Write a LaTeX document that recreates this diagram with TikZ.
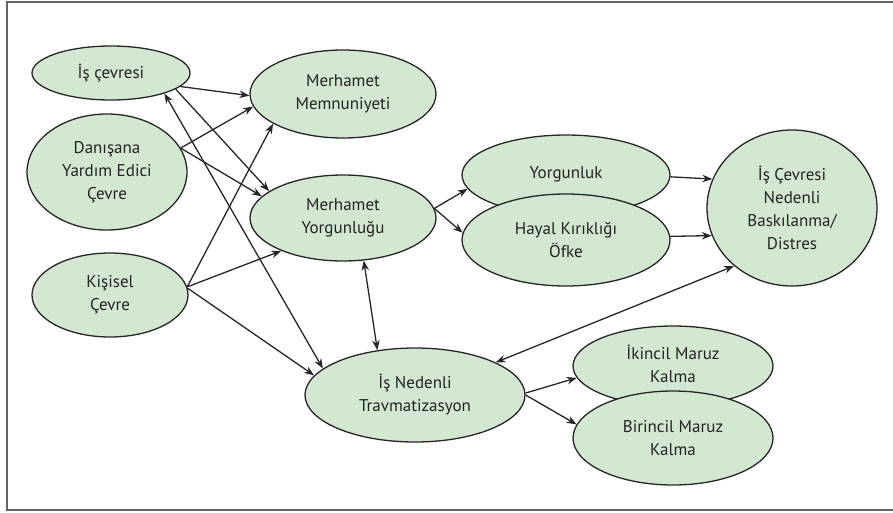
\documentclass[tikz,border=0pt]{standalone}
\usepackage{fontspec}
\setmainfont{PT Sans}
\usetikzlibrary{shapes.geometric,arrows.meta}
\definecolor{ellfill}{RGB}{211,232,209}
\definecolor{txt}{RGB}{35,35,35}
\definecolor{framec}{RGB}{100,100,100}
\tikzset{
  bub/.style={ellipse, draw=black!85, line width=1.3pt, fill=ellfill, inner sep=0pt,
    align=center, text=txt, font=\fontsize{17}{23}\selectfont},
  arr/.style={-{Stealth[length=10pt,width=7.5pt]}, line width=1.3pt, black!85},
  darr/.style={{Stealth[length=10pt,width=7.5pt]}-{Stealth[length=10pt,width=7.5pt]}, line width=1.3pt, black!85},
}
\begin{document}
\begin{tikzpicture}[x=1pt,y=-1pt]
\useasboundingbox (0,0) rectangle (893,512);
\draw[framec, line width=2.5pt] (893,2) -- (7,2) -- (7,510) -- (893,510);

\node[bub, minimum width=158pt, minimum height=54pt] (isc) at (111,73) {İş çevresi};
\node[bub, minimum width=186pt, minimum height=88pt] (mm) at (343,94) {Merhamet\\Memnuniyeti};
\node[bub, minimum width=160pt, minimum height=116pt] (dan) at (107,172) {Danışana\\Yardım Edici\\Çevre};
\node[bub, minimum width=186pt, minimum height=86pt] (my) at (343,218) {Merhamet\\Yorgunluğu};
\node[bub, minimum width=156pt, minimum height=84pt] (kis) at (110,295) {Kişisel\\Çevre};
\node[bub, minimum width=220pt, minimum height=94pt] (int) at (415,395) {İş Nedenli\\Travmatizasyon};
\node[bub, minimum width=208pt, minimum height=80pt] (yor) at (566,175) {\raisebox{4pt}{Yorgunluk}};
\node[bub, minimum width=208pt, minimum height=92pt] (hay) at (566,240) {Hayal Kırıklığı\\Öfke};
\node[bub, minimum width=170pt, minimum height=156pt] (dis) at (792,208) {İş Çevresi\\Nedenli\\Baskılanma/\\Distres};
\node[bub, minimum width=200pt, minimum height=80pt] (iki) at (673,366) {\raisebox{3pt}{\begin{tabular}{@{}c@{}}İkincil Maruz\\Kalma\end{tabular}}};
\node[bub, minimum width=200pt, minimum height=94pt] (bir) at (673,438) {Birincil Maruz\\Kalma};

\draw[arr] (isc.-11) -- (mm.181);
\draw[arr] (isc.-14) -- (my.160);
\draw[arr] (dan.18) -- (mm.188);
\draw[arr] (dan.18) -- (my.165);
\draw[darr] (isc.-21) -- (int.164);
\draw[arr] (kis.6) -- (mm.203);
\draw[arr] (kis.6) -- (my.208);
\draw[arr] (kis.5) -- (int.169);
\draw[darr] (my.-64) -- (int.130);
\draw[arr] (my.6) -- (yor.188);
\draw[arr] (my.6) -- (hay.176);
\draw[arr] (yor.-1) -- (dis.160);
\draw[arr] (hay.2) -- (dis.199);
\draw[darr] (dis.225) -- (int.22);
\draw[arr] (int.1) -- (iki.187);
\draw[arr] (int.0) -- (bir.172);
\end{tikzpicture}
\end{document}
